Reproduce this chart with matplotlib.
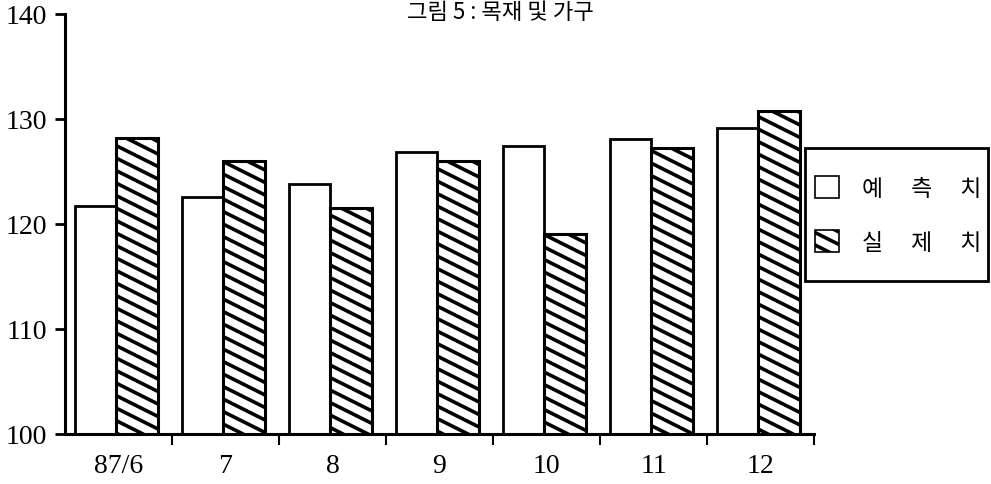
import numpy as np
import matplotlib
matplotlib.use("Agg")
import matplotlib.pyplot as plt
from matplotlib import hatch as mhatch
from matplotlib.path import Path
from matplotlib.patches import Rectangle

# data
months = ["87/6", "7", "8", "9", "10", "11", "12"]
forecast = [121.7, 122.6, 123.8, 126.9, 127.4, 128.1, 129.1]
actual = [128.2, 126.0, 121.5, 126.0, 119.0, 127.2, 130.8]
yticks = [100, 110, 120, 130, 140]
title = "그림 5 : 목재 및 가구"
labels = ["예\u3000 측\u3000 치", "실\u3000 제\u3000 치"]


# shallow "\" hatch (about 27 degrees, like the printed original)
class ShallowSouthEast(mhatch.HatchPatternBase):
    def __init__(self, hatch, density):
        self.num_lines = 15 if hatch.count("\\") else 0
        self.num_vertices = self.num_lines * 2

    def set_vertices_and_codes(self, vertices, codes):
        c = np.arange(-1, self.num_lines - 1) / 8.0
        vertices[0::2, 0] = 0.0
        vertices[0::2, 1] = c
        vertices[1::2, 0] = 1.0
        vertices[1::2, 1] = c - 0.5
        codes[0::2] = Path.MOVETO
        codes[1::2] = Path.LINETO


mhatch._hatch_types = [ShallowSouthEast if h is mhatch.SouthEastHatch else h
                       for h in mhatch._hatch_types]

plt.rcParams["font.family"] = ["Liberation Serif", "Noto Sans CJK KR"]
plt.rcParams["hatch.linewidth"] = 2.6
plt.rcParams["hatch.color"] = "black"

W, H = 991, 485
fig = plt.figure(figsize=(W / 100, H / 100), dpi=100)
ax = fig.add_axes([65 / W, 1 - 435 / H, (814 - 65) / W, (435 - 15) / H])

x = np.arange(len(months))
w = 0.39
b1 = ax.bar(x - 0.215, forecast, w, color="white", edgecolor="black", linewidth=2)
b2 = ax.bar(x + 0.175, actual, w, color="white", edgecolor="black", linewidth=2.2,
            hatch="\\")

ax.set_ylim(100, 140)
ax.set_xlim(-0.5, len(months) - 0.5)
ax.set_yticks(yticks)
ax.set_xticks(x)
ax.set_xticklabels(months)
ax.set_xticks(x + 0.5, minor=True)

for s in ["top", "right"]:
    ax.spines[s].set_visible(False)
for s in ["left", "bottom"]:
    ax.spines[s].set_linewidth(2.2)

ax.tick_params(axis="y", length=7, width=2, pad=6, labelsize=20)
ax.tick_params(axis="x", which="major", length=0, pad=14, labelsize=20)
ax.tick_params(axis="x", which="minor", length=8, width=1.5)

fig.text(0.505, 0.998, title, ha="center", va="top", fontsize=16,
         family="Noto Sans CJK KR")

# legend box
fig.patches.append(Rectangle((805 / W, 1 - 282 / H), (988 - 805) / W, (282 - 149) / H,
                             transform=fig.transFigure, fill=False,
                             edgecolor="black", linewidth=2))
leg = fig.legend([b1, b2], labels, loc="center left",
                 bbox_to_anchor=(815 / W, 1 - 216 / H), borderaxespad=0,
                 frameon=False, prop={"family": "Noto Sans CJK KR", "size": 16.5},
                 handlelength=1.05, handleheight=1.08, labelspacing=1.35,
                 borderpad=0, handletextpad=1.0)
for h in leg.legend_handles:
    h.set_linewidth(1.2)

fig.savefig("out.png", dpi=100)
